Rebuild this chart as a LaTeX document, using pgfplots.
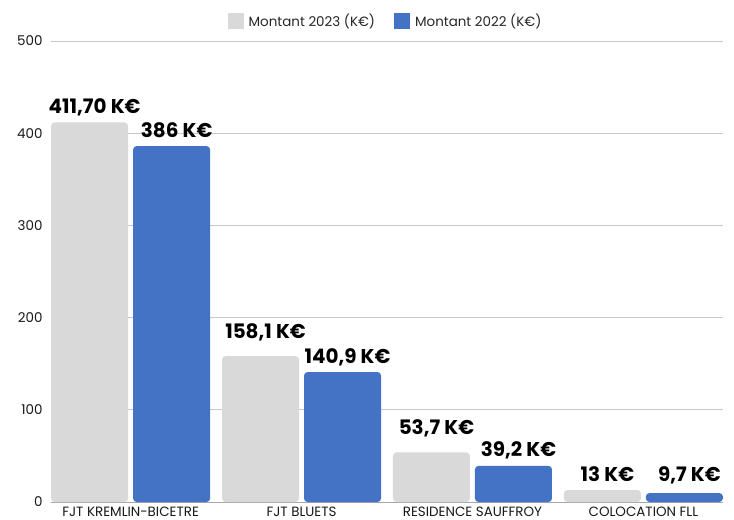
\documentclass[border=0pt]{standalone}
\usepackage{fontspec}
\setmainfont{Poppins}
\usepackage{pgfplots}
\pgfplotsset{compat=1.18}
\definecolor{g23}{HTML}{D9D9D9}
\definecolor{b22}{HTML}{4472C4}
\definecolor{gridc}{HTML}{C8C8C8}
\definecolor{axc}{HTML}{A8A8A8}
\begin{document}
\begin{tikzpicture}
\useasboundingbox (-51bp,-18bp) rectangle (683bp,502bp);
\begin{axis}[
 at={(0,0)}, anchor=south west, scale only axis, width=672bp, height=461bp,
 ybar, bar width=77bp,
 xmin=-0.4658, xmax=3.4658, ymin=0, ymax=500,
 ytick={0,100,...,500}, xtick={0,1,2,3},
 xticklabels={FJT KREMLIN-BICETRE, FJT BLUETS, RESIDENCE SAUFFROY, COLOCATION FLL},
 ymajorgrids, grid style={gridc, line width=0.8bp},
 axis x line*=bottom, axis y line*=left,
 y axis line style={draw=none},
 x axis line style={draw=axc, line width=0.8bp},
 major tick length=0,
 tick label style={font=\fontsize{13.5}{15}\selectfont, text=black!90},
 /pgf/number format/assume math mode=true,
 yticklabel style={xshift=-5bp},
 xticklabel style={yshift=-1bp},
 clip=false,
 nodes near coords, point meta=explicit symbolic,
 every node near coord/.append style={font=\bfseries\fontsize{20}{22}\selectfont, anchor=base, yshift=9bp, xshift=5bp, text=black},
 legend style={at={(0.5,1)}, anchor=center, yshift=20bp, xshift=-1.5bp, draw=none, fill=none,
   legend columns=2, font=\fontsize{13.5}{15}\selectfont, text=black!85,
   /tikz/every odd column/.append style={column sep=3bp},
   /tikz/every even column/.append style={column sep=17bp}},
 legend cell align=left,
]
\addplot[fill=g23, draw=none, bar shift=-41bp, rounded corners=3.5bp,
  legend image code/.code={\fill[g23, sharp corners] (0bp,-8bp) rectangle (16bp,8bp);}]
  coordinates {(0,411.70) [411,70 K€] (1,158.1) [\raisebox{9bp}{158,1 K€}] (2,53.7) [\raisebox{9bp}{53,7 K€}] (3,13) [13 K€]};
\addlegendentry{Montant 2023 (K€)}
\addplot[fill=b22, draw=none, bar shift=41bp, rounded corners=3.5bp,
  legend image code/.code={\fill[b22, sharp corners] (0bp,-8bp) rectangle (16bp,8bp);}]
  coordinates {(0,386) [386 K€] (1,140.9) [140,9 K€] (2,39.2) [39,2 K€] (3,9.7) [\raisebox{3bp}{9,7 K€}]};
\addlegendentry{Montant 2022 (K€)}
\end{axis}
\end{tikzpicture}
\end{document}
